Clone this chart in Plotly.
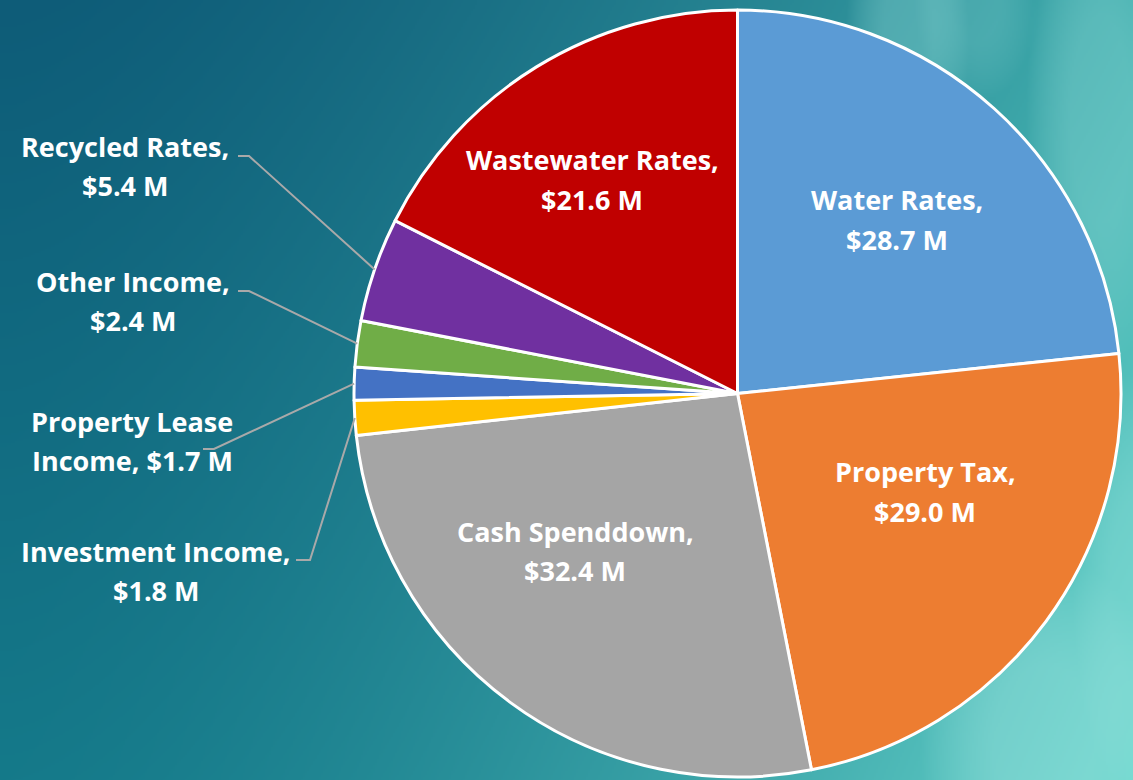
import base64, math, struct, zlib
import numpy as np
import plotly.graph_objects as go

# ---------------- data ----------------
labels = ["Water Rates", "Property Tax", "Cash Spenddown", "Investment Income",
          "Property Lease Income", "Other Income", "Recycled Rates", "Wastewater Rates"]
values = [28.7, 29.0, 32.4, 1.8, 1.7, 2.4, 5.4, 21.6]
colors = ["#5B9BD5", "#ED7D31", "#A5A5A5", "#FFC000", "#4472C4", "#70AD47", "#7030A0", "#C00000"]

# label text lines (as shown on the chart)
label_lines = {
    "Water Rates": ["Water Rates,", "$28.7 M"],
    "Property Tax": ["Property Tax,", "$29.0 M"],
    "Cash Spenddown": ["Cash Spenddown,", "$32.4 M"],
    "Wastewater Rates": ["Wastewater Rates,", "$21.6 M"],
    "Recycled Rates": ["Recycled Rates,", "$5.4 M"],
    "Other Income": ["Other Income,", "$2.4 M"],
    "Property Lease Income": ["Property Lease", "Income, $1.7 M"],
    "Investment Income": ["Investment Income,", "$1.8 M"],
}

# ---------------- layout constants (pixels) ----------------
W, H = 1133, 780
CX, CY, R = 737.5, 393.5, 383.5
FONT = "Open Sans"
FS = 27
LINE_GAP = 39

# label block positions: center x, first-line y
label_pos = {
    "Water Rates": (897, 200),
    "Property Tax": (925, 472),
    "Cash Spenddown": (575, 531),
    "Wastewater Rates": (592, 160),
    "Recycled Rates": (125, 146),
    "Other Income": (133, 281),
    "Property Lease Income": (132, 421),
    "Investment Income": (156, 551),
}
# leader line start (label side): (x_start, x_knee, y)
leader_start = {
    "Recycled Rates": (238, 249, 156),
    "Other Income": (238, 249, 291),
    "Property Lease Income": (203, 214, 449),
    "Investment Income": (296, 310, 560),
}


def px(x):
    return x / W


def py(y):
    return 1 - y / H


# ---------------- background image ----------------
def make_bg(w, h):
    yy, xx = np.mgrid[0:h, 0:w].astype(float)
    xn, yn = xx / w, yy / h
    tl = np.array([14, 92, 120], float)
    bl = np.array([21, 122, 138], float)
    tr = np.array([62, 172, 172], float)
    br = np.array([105, 215, 205], float)
    s = (xn ** 1.6)[..., None]
    v = yn[..., None]
    top = tl * (1 - s) + tr * s
    bot = bl * (1 - s) + br * s
    img = top * (1 - v) + bot * v
    light = np.array([160, 228, 224], float)
    # soft light "leaf" shapes on the right side
    blobs = [(0.80, 0.05, 0.05, 0.20, 0.30), (0.97, 0.15, 0.06, 0.30, 0.30),
             (0.92, 0.95, 0.10, 0.22, 0.40), (1.0, 0.75, 0.05, 0.25, 0.30),
             (0.86, 0.00, 0.05, 0.12, 0.20)]
    for bx, by, sx, sy, a in blobs:
        d = ((xn - bx) / sx) ** 2 + ((yn - by) / sy) ** 2
        m = a * np.clip(1.2 - d, 0, 1)
        img = img * (1 - m[..., None]) + light * m[..., None]
    return np.clip(img, 0, 255).astype(np.uint8)


def png_uri(arr):
    h, w, _ = arr.shape
    raw = b"".join(b"\x00" + arr[i].tobytes() for i in range(h))
    def chunk(tag, data):
        c = struct.pack(">I", len(data)) + tag + data
        return c + struct.pack(">I", zlib.crc32(tag + data) & 0xffffffff)
    png = b"\x89PNG\r\n\x1a\n" + chunk(b"IHDR", struct.pack(">IIBBBBB", w, h, 8, 2, 0, 0, 0))
    png += chunk(b"IDAT", zlib.compress(raw, 9)) + chunk(b"IEND", b"")
    return "data:image/png;base64," + base64.b64encode(png).decode()


bg = png_uri(make_bg(W // 2, H // 2))

# ---------------- figure ----------------
fig = go.Figure(go.Pie(
    labels=labels, values=values, sort=False, direction="clockwise", rotation=0,
    marker=dict(colors=colors, line=dict(color="white", width=3)),
    textinfo="none", hoverinfo="label+value",
    domain=dict(x=[px(CX - R), px(CX + R)], y=[py(CY + R), py(CY - R)]),
))

annotations = []
for name, lines in label_lines.items():
    x0, y0 = label_pos[name]
    for i, txt in enumerate(lines):
        annotations.append(dict(
            x=px(x0), y=py(y0 + i * LINE_GAP), xref="paper", yref="paper",
            text=txt, showarrow=False, xanchor="center", yanchor="middle",
            font=dict(family=FONT, size=FS, color="white", weight="bold")))

# leader lines to slice mid-angles computed from the values
shapes = []
total = sum(values)
cum = 0
for name, v in zip(labels, values):
    mid = (cum + v / 2) / total * 2 * math.pi
    cum += v
    if name in leader_start:
        ex = CX + R * math.sin(mid)
        ey = CY - R * math.cos(mid)
        xs, xk, ys = leader_start[name]
        path = f"M {px(xs)},{py(ys)} L {px(xk)},{py(ys)} L {px(ex)},{py(ey)}"
        shapes.append(dict(type="path", path=path, xref="paper", yref="paper",
                           line=dict(color="#A9A9A9", width=2)))

fig.update_layout(
    width=W, height=H, margin=dict(l=0, r=0, t=0, b=0),
    showlegend=False, paper_bgcolor="#136a80",
    images=[dict(source=bg, xref="paper", yref="paper", x=0, y=1, sizex=1, sizey=1,
                 xanchor="left", yanchor="top", sizing="stretch", layer="below")],
    annotations=annotations, shapes=shapes,
)

fig.write_html("out.html", config={"displayModeBar": False},
               post_script="document.body.style.margin='0';document.body.style.overflow='hidden';")
